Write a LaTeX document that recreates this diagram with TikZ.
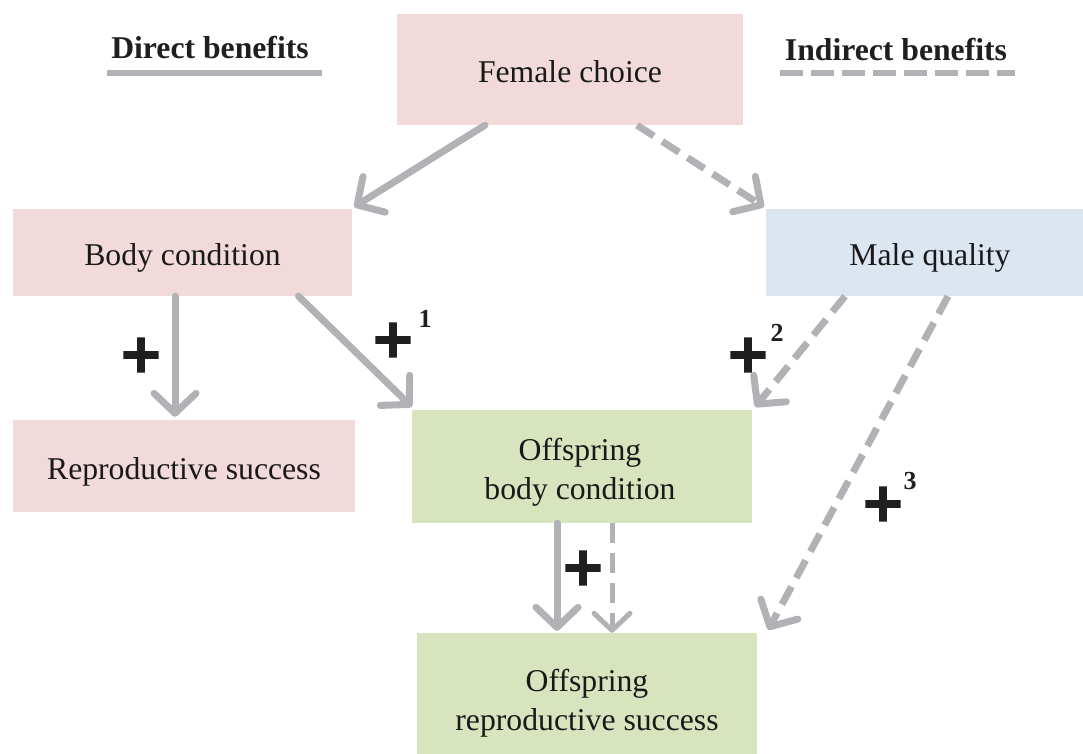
\documentclass[tikz,border=0pt]{standalone}
\usepackage{fontspec}
\setmainfont{Liberation Serif}
\newfontfamily\plusfont[FakeBold=2.5]{DejaVu Sans}
\usetikzlibrary{arrows.meta}
\definecolor{pinkbox}{HTML}{F2DADB}
\definecolor{bluebox}{HTML}{DCE6F1}
\definecolor{greenbox}{HTML}{D7E4BD}
\definecolor{arrowgray}{HTML}{B1B2B5}
\tikzset{
  box/.style={rectangle, inner sep=0pt},
  boxtext/.style={inner sep=0pt, align=center, font=\fontsize{31.7}{39}\selectfont, text=black!90},
  headbig/.style={-{Straight Barb[length=20pt, width=42pt, round]}},
  direct/.style={draw=arrowgray, line width=7pt, line cap=round, headbig},
  indirect/.style={draw=arrowgray, line width=7pt, dash pattern=on 20pt off 10pt, headbig},
  plussign/.style={inner sep=0pt, font=\plusfont\bfseries\fontsize{54}{54}\selectfont, text=black!88},
  supnum/.style={inner sep=0pt, font=\bfseries\fontsize{26}{26}\selectfont, text=black!88},
  legendtext/.style={inner sep=0pt, font=\bfseries\fontsize{31.7}{39}\selectfont, text=black!88}
}
\begin{document}
\begin{tikzpicture}[x=1pt, y=-1pt]
\useasboundingbox (0,0) rectangle (1083,753);
\clip (0,0) rectangle (1083,753);
% boxes
\node[box, fill=pinkbox, minimum width=346pt, minimum height=111pt] (fc) at (570,69.5) {};
\node[box, fill=pinkbox, minimum width=339pt, minimum height=87pt] (bc) at (182.5,252.5) {};
\node[box, fill=bluebox, minimum width=328pt, minimum height=87pt] (mq) at (930,252.5) {};
\node[box, fill=pinkbox, minimum width=342pt, minimum height=92pt] (rs) at (184,466) {};
\node[box, fill=greenbox, minimum width=340pt, minimum height=113pt] (obc) at (582,466.5) {};
\node[box, fill=greenbox, minimum width=340pt, minimum height=134pt] (ors) at (587,700) {};
% box texts
\node[boxtext] (fct) at ([yshift=-2pt]fc.center) {Female choice};
\node[boxtext] (bct) at ([yshift=-5pt]bc.center) {Body condition};
\node[boxtext] (mqt) at ([yshift=-5pt]mq.center) {Male quality};
\node[boxtext] (rst) at ([yshift=-6pt]rs.center) {Reproductive success};
\node[boxtext] (obct) at ([xshift=-2pt,yshift=-6pt]obc.center) {Offspring\\body condition};
\node[boxtext] (orst) at ([yshift=-3pt]ors.center) {Offspring\\reproductive success};
% legend
\node[legendtext] (ld) at (210,47) {Direct benefits};
\node[legendtext] (li) at (896,49) {Indirect benefits};
\coordinate (ld1) at (107,73);
\coordinate (ld2) at (322,73);
\coordinate (li1) at (780,73);
\coordinate (li2) at (1015,73);
\draw[draw=arrowgray, line width=6pt] (ld1) -- (ld2);
\draw[draw=arrowgray, line width=6pt, dash pattern=on 23pt off 8pt] (li1) -- (li2);
% arrows
\draw[direct] ([xshift=-85pt]fc.south) -- ([xshift=2pt,yshift=2pt]bc.north east);
\draw[indirect] ([xshift=67pt]fc.south) -- ([xshift=-2pt,yshift=2pt]mq.north west);
\draw[direct] ([xshift=-7.5pt]bc.south) -- ([xshift=-9pt,yshift=3pt]rs.north);
\draw[direct] ([xshift=116pt]bc.south) -- ([yshift=3pt]obc.north west);
\draw[indirect] ([xshift=-85pt]mq.south) -- ([xshift=3pt,yshift=3pt]obc.north east);
\draw[indirect] ([xshift=18pt]mq.south) -- ([xshift=11pt,yshift=3pt]ors.north east);
\draw[direct] ([xshift=-25pt]obc.south) -- ([xshift=-30pt,yshift=2pt]ors.north);
\draw[indirect, line width=5pt, dash pattern=on 20pt off 10pt, -{Straight Barb[length=17pt, width=36pt, round]}] ([xshift=30pt]obc.south) -- ([xshift=25pt]ors.north);
% plus signs
\node[plussign] (p0) at (141,355) {+};
\node[plussign] (p1) at (393,340) {+};
\node[supnum] (n1) at (425,319) {1};
\node[plussign] (p2) at (748,355) {+};
\node[supnum] (n2) at (777,333) {2};
\node[plussign] (p3) at (883,504) {+};
\node[supnum] (n3) at (910,481) {3};
\node[plussign] (p4) at (583,568) {+};
\end{tikzpicture}
\end{document}
